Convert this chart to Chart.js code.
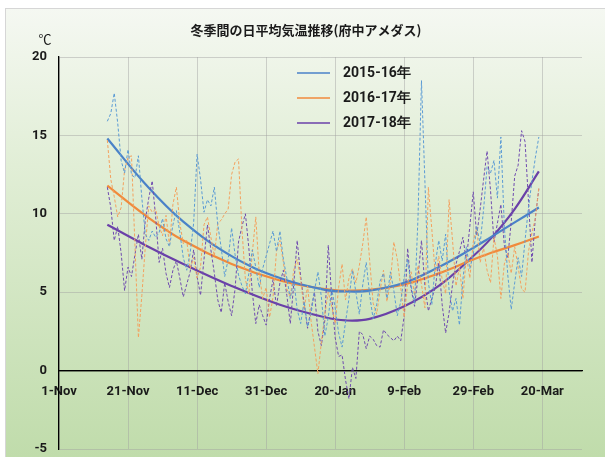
<!DOCTYPE html>
<html>
<head>
<meta charset="utf-8">
<script src="https://cdn.jsdelivr.net/npm/chart.js@4"></script>
<style>
  html, body { margin: 0; padding: 0; background: #fff; }
  #wrap { width: 605px; height: 457px; position: relative; }
</style>
</head>
<body>
<div id="wrap"><canvas id="tempChart" width="605" height="457"></canvas></div>
<script>
// days counted from 1-Nov (day 0)
const firstDay = 14;
const tickLabels = ['1-Nov', '21-Nov', '11-Dec', '31-Dec', '20-Jan', '9-Feb', '29-Feb', '20-Mar'];
const seriesNames = ['2015-16年', '2016-17年', '2017-18年'];

// daily mean temperatures, day 14 .. day 139
const temps1516 = [
    15.9, 16.4, 17.7, 15.8, 13.4, 12.6, 14.1, 12.5, 12.3, 13.7,
    11.0, 8.7, 8.3, 8.9, 8.5, 8.8, 9.7, 8.4, 7.9, 9.3,
    10.2, 8.8, 7.2, 6.4, 7.5, 9.4, 13.8, 12.2, 10.1, 10.9,
    10.5, 11.7, 9.3, 7.8, 6.0, 7.1, 9.1, 7.4, 6.1, 5.4,
    4.9, 6.2, 7.7, 6.6, 5.3, 6.5, 7.3, 8.1, 8.9, 7.6,
    8.9, 7.1, 5.9, 4.6, 5.8, 3.9, 3.0, 4.4, 2.8, 3.6,
    5.1, 6.3, 4.7, 2.2, 3.4, 5.2, 4.0, 2.4, 1.5, 3.1,
    4.6, 6.4, 5.0, 3.6, 5.5, 6.9, 4.8, 3.3, 4.2, 5.7,
    6.2, 4.6, 6.3, 5.1, 3.5, 4.4, 6.0, 7.1, 5.4, 4.3,
    9.8, 18.5, 12.0, 5.6, 4.2, 6.8, 8.3, 7.0, 8.7, 5.1,
    3.8, 4.6, 2.9, 5.8, 7.9, 6.5, 7.4, 9.2, 8.1, 10.3,
    13.0, 12.6, 13.4, 11.0, 14.9, 9.2, 6.1, 3.9, 5.6, 7.2,
    6.0, 8.3, 10.4, 12.1, 13.6, 14.9
];
const temps1617 = [
    14.7, 12.2, 11.1, 9.8, 10.4, 12.8, 13.6, 13.7, 8.0, 2.1,
    4.8, 7.9, 10.5, 10.1, 10.3, 9.2, 8.6, 9.9, 8.0, 10.6,
    11.7, 9.4, 8.1, 8.3, 6.5, 7.2, 5.9, 6.6, 9.3, 9.8,
    8.5, 7.3, 9.4, 9.6, 10.0, 10.3, 12.5, 13.3, 13.5, 9.0,
    5.8, 4.9, 7.5, 9.8, 6.2, 4.6, 5.3, 3.4, 4.7, 7.6,
    8.3, 6.9, 5.2, 4.7, 6.4, 7.1, 5.8, 3.9, 5.4, 3.2,
    1.5, -0.2, 1.8, 3.6, 5.0, 4.1, 3.0, 5.3, 6.8, 4.5,
    5.9, 6.5, 5.6, 6.7, 8.1, 9.8, 7.0, 4.3, 3.6, 5.1,
    6.4, 4.4, 5.7, 8.2, 7.1, 5.3, 3.4, 5.6, 6.3, 4.8,
    6.7, 5.5, 4.0, 11.7, 9.0, 6.1, 7.3, 5.8, 4.9, 10.9,
    8.3, 5.4, 6.6, 4.6, 7.3, 5.9, 8.2, 9.1, 6.9, 7.8,
    6.4, 5.6, 8.5, 7.3, 4.6, 6.8, 7.5, 6.2, 7.9, 6.6,
    5.2, 5.0, 7.6, 8.8, 9.7, 11.7
];
const temps1718 = [
    11.7, 10.4, 8.3, 9.2, 7.5, 5.1, 6.6, 6.0, 7.4, 8.7,
    7.1, 9.6, 11.0, 12.1, 9.8, 6.9, 7.8, 6.2, 5.3, 6.4,
    7.0, 5.9, 4.7, 5.5, 6.3, 7.7, 6.0, 4.8, 7.1, 9.3,
    7.7, 6.2, 4.5, 3.7, 5.6, 4.4, 3.5, 5.2, 8.2, 9.2,
    10.0, 7.8, 5.0, 3.0, 4.2, 3.5, 2.9, 4.6, 5.8, 4.1,
    5.6, 6.4, 4.8, 3.0, 5.5, 8.3, 6.0, 4.3, 2.7, 3.9,
    5.0, 2.5, 1.6, 3.2, 8.0, 4.7, 2.1, 0.9, 1.0, -0.6,
    -1.8, 0.2, -0.5, 2.5, 2.3, 1.4, 2.2, 2.0, 1.6, 1.5,
    2.6, 2.3, 2.1, 1.9, 2.2, 1.9, 3.5, 7.8, 5.2, 4.1,
    6.0, 8.3, 5.4, 3.8, 4.6, 5.3, 6.9, 4.2, 2.4, 3.7,
    5.5, 6.8, 7.6, 8.5, 7.0, 9.2, 11.4, 8.6, 10.3, 12.2,
    14.0, 11.5, 8.2, 9.4, 10.6, 8.0, 7.2, 9.5, 12.4, 13.1,
    15.3, 14.6, 10.8, 6.9, 9.8, 11.6
];

// trend curves
const trendDays = [14, 25, 36, 50, 64, 77, 83, 90, 100, 110, 119, 125, 132, 139];
const trend1516 = [14.8, 11.9, 9.5, 7.3, 5.9, 5.15, 5.05, 5.1, 5.6, 6.6, 7.7, 8.5, 9.45, 10.4];
const trend1617 = [11.8, 9.9, 8.3, 6.8, 5.75, 5.2, 5.1, 5.15, 5.5, 6.2, 7.0, 7.5, 8.0, 8.55];
const trend1718 = [9.3, 8.0, 6.8, 5.4, 4.2, 3.4, 3.2, 3.3, 4.1, 5.4, 7.1, 8.4, 10.3, 12.7];

const colors = ['#4A82C8', '#F08A3C', '#6A40A8'];
const dailyColors = ['#5B9BD5', '#F4A15E', '#6F4BB0'];

function dailyPoints(arr) {
    return arr.map((v, i) => ({ x: firstDay + i, y: v }));
}
function trendPoints(arr) {
    return arr.map((v, i) => ({ x: trendDays[i], y: v }));
}

const dailySets = [temps1516, temps1617, temps1718].map((arr, i) => ({
    label: seriesNames[i] + ' daily',
    data: dailyPoints(arr),
    borderColor: dailyColors[i],
    borderWidth: 1,
    borderDash: [3, 2],
    pointRadius: 0,
    tension: 0
}));
const trendSets = [trend1516, trend1617, trend1718].map((arr, i) => ({
    label: seriesNames[i],
    data: trendPoints(arr),
    borderColor: colors[i],
    borderWidth: 2.2,
    pointRadius: 0,
    tension: 0.4
}));

const labelFont = "Roboto, 'Liberation Sans', sans-serif";

// background, frame, title, unit and legend
const decorPlugin = {
    id: 'decor',
    beforeDraw(chart) {
        const c = chart.ctx;
        c.save();
        c.fillStyle = '#ffffff';
        c.fillRect(0, 0, chart.width, chart.height);
        const g = c.createLinearGradient(0, 8, 0, 457);
        g.addColorStop(0, '#F5F8F2');
        g.addColorStop(0.35, '#E1EED6');
        g.addColorStop(1, '#C0DCAB');
        c.fillStyle = g;
        c.fillRect(5, 8, 600, 449);
        c.strokeStyle = '#D6D6D6';
        c.lineWidth = 1;
        c.strokeRect(5.5, 8.5, 600, 449);
        c.restore();
    },
    afterDraw(chart) {
        const c = chart.ctx;
        c.save();
        c.fillStyle = '#1a1a1a';
        c.textBaseline = 'middle';
        c.textAlign = 'center';
        c.font = "bold 13px 'Noto Sans CJK JP', sans-serif";
        c.fillText('冬季間の日平均気温推移(府中アメダス)', 306, 30);
        c.font = "13px 'Noto Sans CJK JP', sans-serif";
        c.fillText('℃', 45, 39);
        c.textAlign = 'left';
        c.font = 'bold 14px ' + labelFont;
        seriesNames.forEach((name, i) => {
            const y = 73 + i * 25;
            c.strokeStyle = colors[i];
            c.lineWidth = 1.6;
            c.beginPath();
            c.moveTo(297, y);
            c.lineTo(330, y);
            c.stroke();
            c.fillText(name, 343, y);
        });
        c.restore();
    }
};

const ctx = document.getElementById('tempChart').getContext('2d');
const myChart = new Chart(ctx, {
    type: 'line',
    data: { datasets: dailySets.concat(trendSets) },
    options: {
        responsive: false,
        animation: false,
        layout: { padding: { left: 0, right: 23, top: 57, bottom: 8 } },
        plugins: {
            legend: { display: false },
            title: { display: false },
            tooltip: { enabled: false }
        },
        scales: {
            x: {
                type: 'linear',
                position: { y: 0 },
                min: 0,
                max: 151.5,
                grid: { color: 'rgba(160,160,160,0.45)', drawTicks: false },
                border: { color: '#000', width: 1.3 },
                ticks: {
                    stepSize: 20,
                    includeBounds: false,
                    maxRotation: 0,
                    autoSkip: false,
                    padding: 13,
                    color: '#1a1a1a',
                    font: { family: labelFont, size: 13, weight: 'bold' },
                    callback: v => tickLabels[v / 20] || ''
                }
            },
            y: {
                min: -5,
                max: 20,
                afterFit: scale => {
                    scale.width = 59;
                    scale.paddingTop = 0;
                    scale.paddingBottom = 0;
                },
                grid: {
                    color: c => c.tick && c.tick.value === 0 ? '#000' : 'rgba(160,160,160,0.45)',
                    lineWidth: c => c.tick && c.tick.value === 0 ? 1.3 : 1,
                    drawTicks: false
                },
                border: { color: '#000', width: 1.3 },
                ticks: {
                    stepSize: 5,
                    padding: 12,
                    color: '#1a1a1a',
                    font: { family: labelFont, size: 13, weight: 'bold' }
                }
            }
        }
    },
    plugins: [decorPlugin]
});
</script>
</body>
</html>
